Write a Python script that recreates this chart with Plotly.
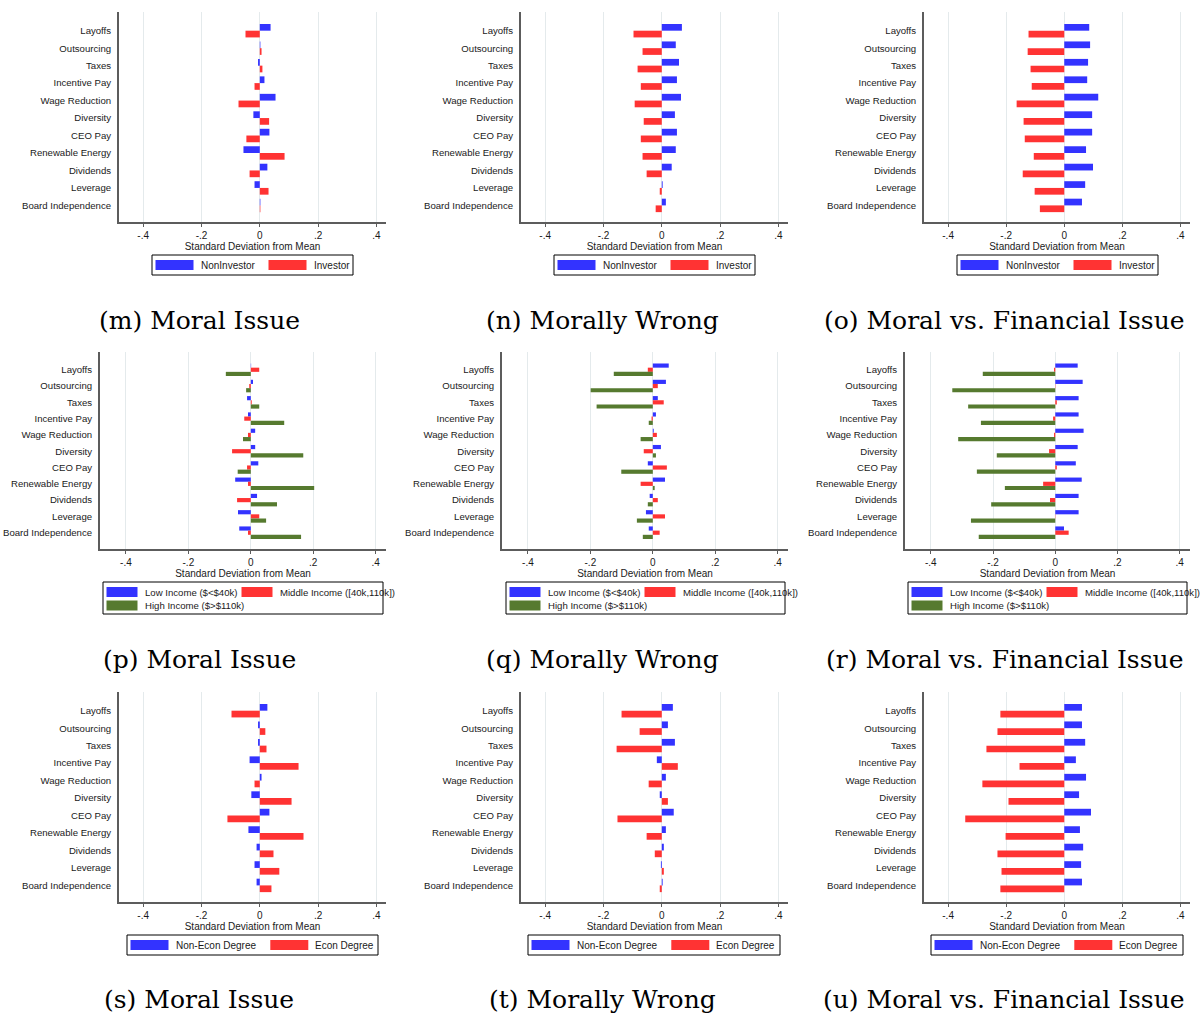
import plotly.graph_objects as go

W, H = 1203, 1016

categories = ["Layoffs", "Outsourcing", "Taxes", "Incentive Pay", "Wage Reduction",
              "Diversity", "CEO Pay", "Renewable Energy", "Dividends", "Leverage",
              "Board Independence"]
xtick_vals = [-0.4, -0.2, 0, 0.2, 0.4]
xtick_text = ["-.4", "-.2", "0", ".2", ".4"]
x_title = "Standard Deviation from Mean"

investor_labels = ["NonInvestor", "Investor"]
income_labels = ["Low Income ($&lt;$40k)", "Middle Income ([40k,110k])", "High Income ($&gt;$110k)"]
degree_labels = ["Non-Econ Degree", "Econ Degree"]

captions = ["(m) Moral Issue", "(n) Morally Wrong", "(o) Moral vs. Financial Issue",
            "(p) Moral Issue", "(q) Morally Wrong", "(r) Moral vs. Financial Issue",
            "(s) Moral Issue", "(t) Morally Wrong", "(u) Moral vs. Financial Issue"]

# (m) Moral Issue by investor status
m_noninvestor = [0.037, 0.002, -0.006, 0.016, 0.054, -0.022, 0.033, -0.056, 0.026, -0.018, 0.002]
m_investor = [-0.049, 0.006, 0.009, -0.018, -0.073, 0.032, -0.046, 0.085, -0.035, 0.030, 0.002]
# (n) Morally Wrong by investor status
n_noninvestor = [0.069, 0.048, 0.059, 0.052, 0.066, 0.045, 0.052, 0.048, 0.034, 0.003, 0.014]
n_investor = [-0.097, -0.066, -0.083, -0.072, -0.093, -0.062, -0.072, -0.066, -0.052, -0.007, -0.021]
# (o) Moral vs Financial by investor status
o_noninvestor = [0.086, 0.089, 0.082, 0.079, 0.117, 0.096, 0.096, 0.075, 0.099, 0.072, 0.061]
o_investor = [-0.123, -0.126, -0.116, -0.112, -0.164, -0.140, -0.136, -0.105, -0.143, -0.102, -0.084]
# (p) Moral Issue by income
p_low = [0.001, 0.007, -0.012, -0.009, 0.014, 0.014, 0.024, -0.050, 0.020, -0.041, -0.037]
p_mid = [0.027, -0.005, 0.003, -0.021, -0.009, -0.060, -0.012, -0.009, -0.044, 0.027, -0.009]
p_high = [-0.080, -0.015, 0.027, 0.107, -0.025, 0.168, -0.042, 0.203, 0.084, 0.049, 0.161]
# (q) Morally Wrong by income
q_low = [0.051, 0.042, 0.016, 0.010, 0.003, 0.026, -0.016, 0.039, -0.010, -0.022, -0.013]
q_mid = [-0.016, 0.016, 0.035, -0.004, 0.013, -0.029, 0.045, -0.039, 0.016, 0.039, 0.022]
q_high = [-0.125, -0.199, -0.180, -0.013, -0.039, 0.010, -0.101, 0.006, -0.016, -0.051, -0.032]
# (r) Moral vs Financial by income
r_low = [0.072, 0.088, 0.075, 0.075, 0.091, 0.072, 0.066, 0.085, 0.075, 0.075, 0.028]
r_mid = [-0.004, 0.001, 0.005, -0.007, -0.004, -0.020, 0.005, -0.039, -0.017, -0.001, 0.043]
r_high = [-0.233, -0.331, -0.280, -0.239, -0.312, -0.188, -0.252, -0.162, -0.206, -0.271, -0.246]
# (s) Moral Issue by degree
s_nonecon = [0.026, -0.006, -0.006, -0.035, 0.006, -0.029, 0.033, -0.039, -0.011, -0.018, -0.011]
s_econ = [-0.097, 0.019, 0.023, 0.133, -0.018, 0.109, -0.111, 0.150, 0.047, 0.067, 0.040]
# (t) Morally Wrong by degree
t_nonecon = [0.038, 0.021, 0.045, -0.017, 0.014, -0.007, 0.041, 0.014, 0.007, -0.003, 0.003]
t_econ = [-0.138, -0.076, -0.155, 0.055, -0.045, 0.021, -0.152, -0.052, -0.024, 0.007, -0.007]
# (u) Moral vs Financial by degree
u_nonecon = [0.061, 0.061, 0.072, 0.040, 0.075, 0.051, 0.092, 0.054, 0.065, 0.058, 0.061]
u_econ = [-0.220, -0.230, -0.268, -0.154, -0.282, -0.192, -0.341, -0.202, -0.230, -0.216, -0.220]

BLUE = "#3333ff"
RED = "#ff3333"
GREEN = "#567a2f"
AXIS_COLOR = "#5c5c5c"
GRID_COLOR = "#e4eaec"
TEXT_COLOR = "#1a1a1a"
SANS = "Liberation Sans, Arial, sans-serif"
SERIF = "DejaVu Serif, serif"

series_sets = [
    [(investor_labels[0], m_noninvestor, BLUE), (investor_labels[1], m_investor, RED)],
    [(investor_labels[0], n_noninvestor, BLUE), (investor_labels[1], n_investor, RED)],
    [(investor_labels[0], o_noninvestor, BLUE), (investor_labels[1], o_investor, RED)],
    [(income_labels[0], p_low, BLUE), (income_labels[1], p_mid, RED), (income_labels[2], p_high, GREEN)],
    [(income_labels[0], q_low, BLUE), (income_labels[1], q_mid, RED), (income_labels[2], q_high, GREEN)],
    [(income_labels[0], r_low, BLUE), (income_labels[1], r_mid, RED), (income_labels[2], r_high, GREEN)],
    [(degree_labels[0], s_nonecon, BLUE), (degree_labels[1], s_econ, RED)],
    [(degree_labels[0], t_nonecon, BLUE), (degree_labels[1], t_econ, RED)],
    [(degree_labels[0], u_nonecon, BLUE), (degree_labels[1], u_econ, RED)],
]

# ---- layout geometry (screen pixels) ----
row_y = {0: (12, 222), 1: (352, 549), 2: (692, 902)}
col_x = {0: (119, 386), 1: (521, 788), 2: (924, 1190)}
col_x_row2 = {0: (100, 386), 1: (502, 788), 2: (905, 1190)}
row_yrange = {0: [10.95, -1.07], 1: [11.0, -1.09], 2: [10.95, -1.07]}
col_center = {0: 199, 1: 602, 2: 1004}
caption_y = {0: 320, 1: 659, 2: 999}
x_range = [-0.483, 0.433]

legend_box_x = {0: [(152, 353), (554, 755), (957, 1158)],
                1: [(103, 383), (506, 785), (908, 1187)],
                2: [(127, 378), (528, 780), (931, 1183)]}
legend_box_y = {0: (255, 275), 1: (582, 614), 2: (935, 955)}
# item offsets within the legend box: (dx, row)
legend_items = {0: [(3.5, 0), (116.5, 0)],
                1: [(3.5, 0), (138.5, 0), (3.5, 1)],
                2: [(3.5, 0), (143.3, 0)]}
swatch_w = {0: 38, 1: 31, 2: 38}
legend_font = {0: 10, 1: 9.6, 2: 10}


def px(x):
    return x / W


def py(y):
    return 1 - y / H


fig = go.Figure()
shapes = []
annotations = []
layout = dict(
    width=W, height=H,
    margin=dict(l=0, r=0, t=0, b=0, pad=0, autoexpand=False),
    paper_bgcolor="white", plot_bgcolor="white",
    barmode="group", bargap=0.23, bargroupgap=0,
    showlegend=False,
    font=dict(family=SANS, size=10, color=TEXT_COLOR),
)

for i in range(9):
    r, c = divmod(i, 3)
    k = "" if i == 0 else str(i + 1)
    xa, ya = "x" + k, "y" + k
    for name, vals, color in series_sets[i]:
        fig.add_trace(go.Bar(
            x=vals, y=categories, orientation="h", name=name,
            marker=dict(color=color, line=dict(width=0)),
            xaxis=xa, yaxis=ya, showlegend=False,
        ))
    x0, x1 = (col_x_row2 if r == 1 else col_x)[c]
    y0, y1 = row_y[r]
    layout["xaxis" + k] = dict(
        domain=[px(x0), px(x1)], anchor=ya, range=x_range, automargin=False,
        tickvals=xtick_vals, ticktext=xtick_text,
        showgrid=True, gridcolor=GRID_COLOR, gridwidth=1, zeroline=False,
        showline=True, linecolor=AXIS_COLOR, linewidth=1.5,
        ticks="outside", ticklen=3, tickcolor=AXIS_COLOR, tickwidth=1,
        tickfont=dict(size=10, color=TEXT_COLOR, family=SANS),
        title=dict(text=x_title, font=dict(size=10, color=TEXT_COLOR, family=SANS), standoff=0),
        fixedrange=True,
    )
    layout["yaxis" + k] = dict(
        domain=[py(y1), py(y0)], anchor=xa, type="category", automargin=False,
        categoryorder="array", categoryarray=categories,
        range=row_yrange[r], showgrid=False, zeroline=False,
        showline=True, linecolor=AXIS_COLOR, linewidth=2,
        ticks="", ticklabelstandoff=4,
        tickfont=dict(size=9.6, color=TEXT_COLOR, family=SANS),
        fixedrange=True,
    )

    # legend box
    bx0, bx1 = legend_box_x[r][c]
    by0, by1 = legend_box_y[r]
    shapes.append(dict(type="rect", xref="paper", yref="paper",
                       x0=px(bx0), x1=px(bx1), y0=py(by1), y1=py(by0),
                       line=dict(color="black", width=1), fillcolor="white", layer="below"))
    sw = swatch_w[r]
    for (dx, row), (name, vals, color) in zip(legend_items[r], series_sets[i]):
        sx0 = bx0 + dx
        sy_c = by0 + 10 + row * 13.5 if r == 1 else (by0 + by1) / 2
        shapes.append(dict(type="rect", xref="paper", yref="paper",
                           x0=px(sx0), x1=px(sx0 + sw), y0=py(sy_c + 5), y1=py(sy_c - 5),
                           line=dict(width=0), fillcolor=color, layer="above"))
        annotations.append(dict(xref="paper", yref="paper", x=px(sx0 + sw + 5), y=py(sy_c),
                                xanchor="left", yanchor="middle", showarrow=False,
                                text=name, font=dict(size=legend_font[r], color=TEXT_COLOR, family=SANS)))
    # caption
    annotations.append(dict(xref="paper", yref="paper", x=px(col_center[c]), y=py(caption_y[r]),
                            xanchor="center", yanchor="middle", showarrow=False,
                            text=captions[i], font=dict(size=25, color="black", family=SERIF)))

layout["shapes"] = shapes
layout["annotations"] = annotations
fig.update_layout(**layout)
# remove the browser's default 8px page margin so the figure fills the window exactly
fig.write_html("out.html",
               config={"displayModeBar": False, "staticPlot": True},
               post_script="document.body.style.margin='0';document.body.style.overflow='hidden';")
